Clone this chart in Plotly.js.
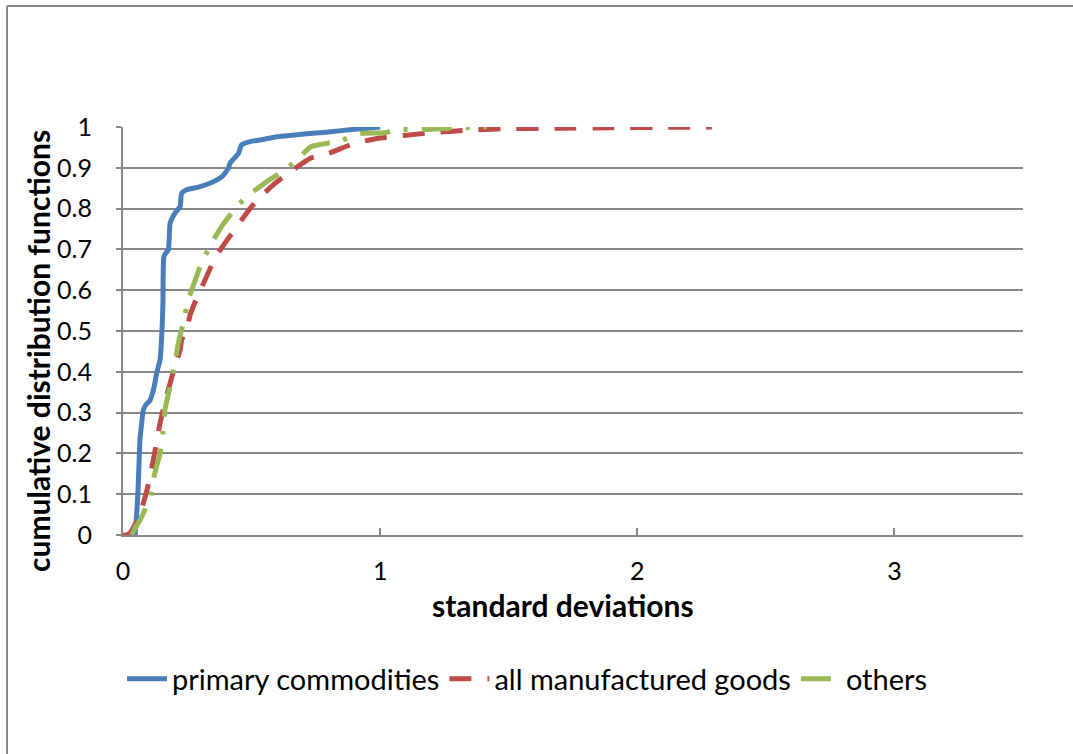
<!DOCTYPE html>
<html>
<head>
<meta charset="utf-8">
<script src="https://cdn.plot.ly/plotly-3.0.1.min.js"></script>
<style>
html,body{margin:0;padding:0;background:#fff;overflow:hidden;}
#chart{width:1073px;height:754px;}
</style>
</head>
<body>
<div id="chart"></div>
<script>
// ---- data ----
const seriesNames = ["primary commodities", "all manufactured goods", "others"];

const primaryX = [0.047, 0.052, 0.058, 0.062, 0.066, 0.072, 0.079, 0.09, 0.105, 0.12, 0.131, 0.144, 0.15, 0.155, 0.159, 0.165, 0.176, 0.183, 0.19, 0.202, 0.222, 0.228, 0.247, 0.29, 0.338, 0.37, 0.39, 0.41, 0.416, 0.435, 0.449, 0.461, 0.494, 0.55, 0.598, 0.66, 0.727, 0.8, 0.88, 0.95, 1.0];
const primaryY = [0, 0.04, 0.103, 0.17, 0.233, 0.27, 0.306, 0.32, 0.33, 0.36, 0.397, 0.429, 0.48, 0.56, 0.682, 0.69, 0.699, 0.764, 0.775, 0.789, 0.805, 0.837, 0.846, 0.852, 0.862, 0.872, 0.882, 0.899, 0.911, 0.925, 0.935, 0.956, 0.964, 0.97, 0.976, 0.98, 0.984, 0.988, 0.993, 0.997, 1.0];

const manufX = [0.0, 0.015, 0.027, 0.05, 0.07, 0.086, 0.098, 0.118, 0.144, 0.165, 0.183, 0.205, 0.222, 0.228, 0.25, 0.261, 0.286, 0.319, 0.358, 0.397, 0.43, 0.461, 0.5, 0.545, 0.591, 0.662, 0.727, 0.798, 0.9, 1.0, 1.103, 1.2, 1.362, 1.5, 1.7, 1.9, 2.1, 2.29];
const manufY = [0, 0, 0.005, 0.03, 0.06, 0.093, 0.123, 0.184, 0.274, 0.33, 0.372, 0.42, 0.453, 0.478, 0.51, 0.539, 0.58, 0.625, 0.679, 0.716, 0.745, 0.772, 0.805, 0.835, 0.862, 0.895, 0.923, 0.935, 0.96, 0.973, 0.98, 0.986, 0.993, 0.996, 0.997, 0.998, 0.999, 1.0];

const othersX = [0.034, 0.05, 0.065, 0.079, 0.105, 0.122, 0.144, 0.155, 0.163, 0.183, 0.202, 0.215, 0.234, 0.254, 0.284, 0.3, 0.345, 0.39, 0.442, 0.474, 0.52, 0.559, 0.63, 0.694, 0.733, 0.844, 0.922, 1.019, 1.058, 1.181, 1.265, 1.362, 1.414];
const othersY = [0, 0.02, 0.035, 0.053, 0.09, 0.147, 0.2, 0.25, 0.306, 0.363, 0.421, 0.47, 0.519, 0.576, 0.63, 0.658, 0.716, 0.762, 0.804, 0.826, 0.848, 0.866, 0.895, 0.931, 0.952, 0.966, 0.984, 0.986, 0.993, 0.994, 0.997, 0.999, 1.0];

const xTickVals = [0, 1, 2, 3];
const xTickText = ["0", "1", "2", "3"];
const yTickVals = [0, 0.1, 0.2, 0.3, 0.4, 0.5, 0.6, 0.7, 0.8, 0.9, 1];
const yTickText = ["0", "0.1", "0.2", "0.3", "0.4", "0.5", "0.6", "0.7", "0.8", "0.9", "1"];

const xTitle = "standard deviations";
const yTitle = "cumulative distribution functions";

// ---- chart ----
const FONT = "Lato, 'Liberation Sans', sans-serif";
const GRID = "#878787";

const traces = [
  {x: primaryX, y: primaryY, name: seriesNames[0], mode: "lines", type: "scatter",
   line: {color: "#4A7EBB", width: 5, shape: "spline", smoothing: 0.6}},
  {x: manufX, y: manufY, name: seriesNames[1], mode: "lines", type: "scatter",
   line: {color: "#BE4B48", width: 5, dash: "22px,16px", shape: "spline", smoothing: 0.6}},
  {x: othersX, y: othersY, name: seriesNames[2], mode: "lines", type: "scatter",
   line: {color: "#98B954", width: 5, dash: "30px,14px,4px,14px", shape: "spline", smoothing: 0.6}}
];

const L = 123, T = 127, W = 900, H = 408;
function px2paperX(p){ return (p - L) / W; }
function px2paperY(p){ return (T + H - p) / H; }

const layout = {
  width: 1073, height: 754,
  margin: {l: L, r: 1073 - L - W, t: T, b: 754 - T - H, pad: 0},
  paper_bgcolor: "#fff", plot_bgcolor: "#fff",
  font: {family: FONT, color: "#000", size: 24},
  showlegend: true,
  legend: {orientation: "h", x: px2paperX(527), xanchor: "center", y: px2paperY(679), yanchor: "middle",
           font: {family: FONT, size: 29, color: "#000"}, bgcolor: "rgba(0,0,0,0)", itemwidth: 40, tracegroupgap: 0},
  xaxis: {range: [0, 3.5], tickvals: xTickVals, ticktext: xTickText, showgrid: false, zeroline: false,
          showline: true, linecolor: GRID, linewidth: 2, ticks: "inside", ticklen: 7, tickwidth: 2, tickcolor: GRID,
          tickfont: {family: FONT, size: 25, color: "#000"}, ticklabelstandoff: 13, fixedrange: true},
  yaxis: {range: [0, 1], tickvals: yTickVals, ticktext: yTickText, showgrid: true, gridcolor: GRID, gridwidth: 2,
          zeroline: false, showline: true, linecolor: GRID, linewidth: 2, ticks: "outside", ticklen: 5, tickwidth: 2,
          tickcolor: GRID, tickfont: {family: FONT, size: 25, color: "#000"}, ticklabelstandoff: 19, fixedrange: true},
  annotations: [
    {text: "<b>" + xTitle + "</b>", xref: "paper", yref: "paper", x: px2paperX(563), y: px2paperY(605),
     xanchor: "center", yanchor: "middle", showarrow: false, font: {family: FONT, size: 30, color: "#000"}},
    {text: "<b>" + yTitle + "</b>", xref: "paper", yref: "paper", x: px2paperX(38), y: px2paperY(351),
     xanchor: "center", yanchor: "middle", textangle: -90, showarrow: false, font: {family: FONT, size: 30, color: "#000"}}
  ],
  shapes: [
    {type: "line", xref: "paper", yref: "paper", x0: px2paperX(7), x1: px2paperX(7), y0: px2paperY(760), y1: px2paperY(6),
     line: {color: "#898989", width: 2}},
    {type: "line", xref: "paper", yref: "paper", x0: px2paperX(7), x1: px2paperX(1080), y0: px2paperY(6), y1: px2paperY(6),
     line: {color: "#898989", width: 2}}
  ]
};

Plotly.newPlot("chart", traces, layout, {displayModeBar: false, staticPlot: true});
</script>
</body>
</html>
